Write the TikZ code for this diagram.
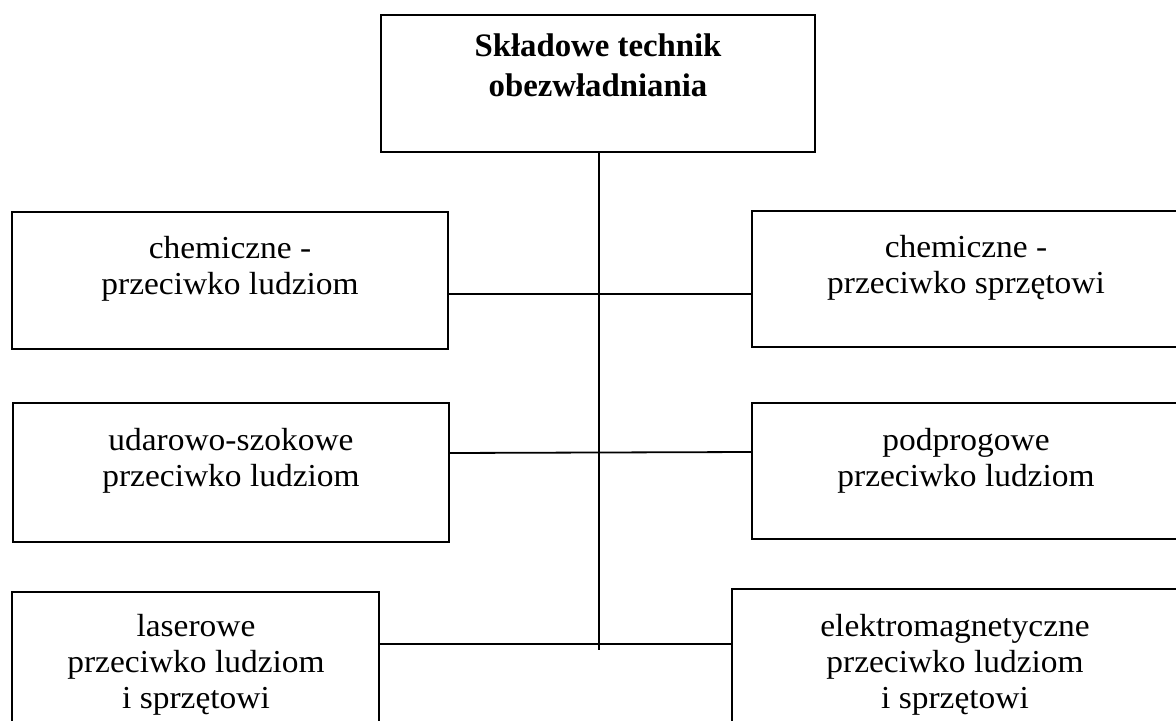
\documentclass[tikz,border=0pt]{standalone}
\usepackage{fontspec}
\setmainfont{Liberation Serif}
\newfontfamily\widefont[FakeStretch=1.045]{Liberation Serif}
\begin{document}
\begin{tikzpicture}[x=0.5pt,y=-0.5pt,
  box/.style={draw=black,line width=0.9pt,rectangle,inner sep=0pt},
  lbl/.style={anchor=north,align=center,inner sep=0pt,font=\widefont\fontsize{16}{18}\selectfont},
  ttl/.style={anchor=north,align=center,inner sep=0pt,font=\fontsize{16.4}{20.3}\selectfont\bfseries},
  conn/.style={draw=black,line width=0.9pt}]
\useasboundingbox (0,0) rectangle (1176,721);
\begin{scope}
\clip (0,0) rectangle (1176,721);
% boxes
\draw[box] (381,15) rectangle (815,152);
\draw[box] (12,212) rectangle (448,349);
\draw[box] (752,211) rectangle (1190,347);
\draw[box] (13,403) rectangle (449,542);
\draw[box] (752,403) rectangle (1190,539);
\draw[box] (12,592) rectangle (379,740);
\draw[box] (732,589) rectangle (1190,740);
% anchor nodes
\node[inner sep=0pt] (top) at (599,152) {};
\coordinate (tail) at (599,650);
\coordinate (l1) at (448,294);
\coordinate (r1) at (752,294);
\coordinate (l2) at (449,453);
\coordinate (r2) at (752,452);
\coordinate (l3) at (379,644);
\coordinate (r3) at (732,644);
\draw[conn] (top) -- (tail);
\draw[conn] (l1) -- (r1);
\draw[conn] (l2) -- (r2);
\draw[conn] (l3) -- (r3);
% texts
\node[ttl] (t0) at (598,33) {Składowe technik\\obezwładniania};
\node[lbl] (t1) at (230,236) {chemiczne -\\przeciwko ludziom};
\node[lbl] (t2) at (966,235) {chemiczne -\\przeciwko sprzętowi};
\node[lbl] (t3) at (231,428) {udarowo-szokowe\\przeciwko ludziom};
\node[lbl] (t4) at (966,428) {podprogowe\\przeciwko ludziom};
\node[lbl] (t5) at (196,614) {laserowe\\przeciwko ludziom\\i sprzętowi};
\node[lbl] (t6) at (955,614) {elektromagnetyczne\\przeciwko ludziom\\i sprzętowi};
\end{scope}
\end{tikzpicture}
\end{document}
